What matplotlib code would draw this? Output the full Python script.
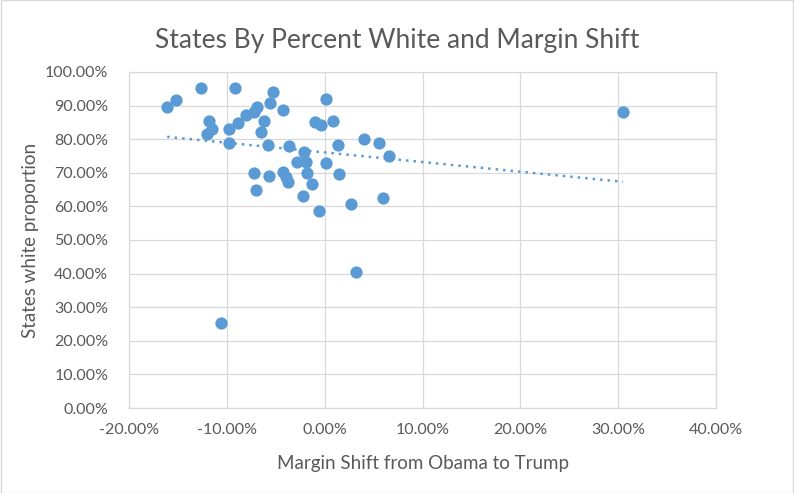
import numpy as np
import matplotlib
matplotlib.use("Agg")
import matplotlib.pyplot as plt
from matplotlib.ticker import PercentFormatter

# margin shift (%), white proportion (%)
margin_shift = [-16.1, -15.2, -12.6, -9.2, -5.3, 0.1, 30.5,
                -11.8, -12.0, -11.5, -9.8, -9.8, -8.9, -8.0, -7.2, -6.9, -5.6, -4.3,
                -6.2, -6.5, -5.8, -3.6, -1.0, -0.4, 0.8, 1.4, 4.0, 5.5, 6.6,
                -2.1, -2.8, -1.9, 0.1, -7.2, -5.7, -4.3, -4.0, -3.7, -1.8, -1.3, 1.5,
                -7.0, -2.2, -0.6, 2.7, 6.0, 3.2, -10.6]
white_prop = [89.6, 91.6, 95.3, 95.3, 94.1, 92.0, 88.0,
              85.4, 81.5, 82.9, 79.0, 83.0, 84.7, 87.2, 88.0, 89.7, 90.9, 88.6,
              85.5, 82.1, 78.4, 77.9, 85.2, 84.2, 85.4, 78.4, 80.2, 78.9, 74.9,
              76.2, 73.3, 73.3, 72.8, 69.8, 69.1, 70.2, 68.8, 67.4, 69.8, 66.7, 69.5,
              65.0, 63.0, 58.5, 60.7, 62.4, 40.6, 25.3]

x_ticks = [-20, -10, 0, 10, 20, 30, 40]
y_ticks = [0, 10, 20, 30, 40, 50, 60, 70, 80, 90, 100]

blue = "#5B9BD5"
grey_text = "#595959"
plt.rcParams["font.family"] = ["Lato", "DejaVu Sans"]
plt.rcParams["axes.unicode_minus"] = False

fig = plt.figure(figsize=(7.94, 4.93), dpi=100)
ax = fig.add_axes([0.1625, 0.1724, 0.7393, 0.6816])

ax.scatter(margin_shift, white_prop, s=78, color=blue, zorder=3, linewidths=0)

# linear trend line
coef = np.polyfit(margin_shift, white_prop, 1)
tx = np.array([min(margin_shift), max(margin_shift)])
ax.plot(tx, np.polyval(coef, tx), color=blue, linestyle=(0, (1, 2)), linewidth=1.8, zorder=2)

ax.set_xlim(-20, 40)
ax.set_ylim(0, 100)
ax.set_xticks(x_ticks)
ax.set_yticks(y_ticks)
ax.xaxis.set_major_formatter(PercentFormatter(decimals=2))
ax.yaxis.set_major_formatter(PercentFormatter(decimals=2))
ax.grid(True, color="#D9D9D9", linewidth=0.9)
ax.set_axisbelow(True)
for s in ax.spines.values():
    s.set_color("#D9D9D9")
    s.set_linewidth(0.9)
ax.tick_params(length=0, labelsize=11.5, colors=grey_text)
ax.tick_params(axis="y", pad=15)
ax.tick_params(axis="x", pad=11)

ax.set_xlabel("Margin Shift from Obama to Trump", fontsize=13.5, color=grey_text, labelpad=13)
ax.set_ylabel("States white proportion", fontsize=13.5, color=grey_text, labelpad=4)
fig.text(0.5, 0.918, "States By Percent White and Margin Shift", fontsize=19,
         color=grey_text, ha="center", va="center")

# chart border
fig.patches.append(plt.Rectangle((0.001, 0.001), 0.998, 0.998, transform=fig.transFigure,
                                 fill=False, edgecolor="#D9D9D9", linewidth=1))

fig.savefig("out.png", dpi=100)
